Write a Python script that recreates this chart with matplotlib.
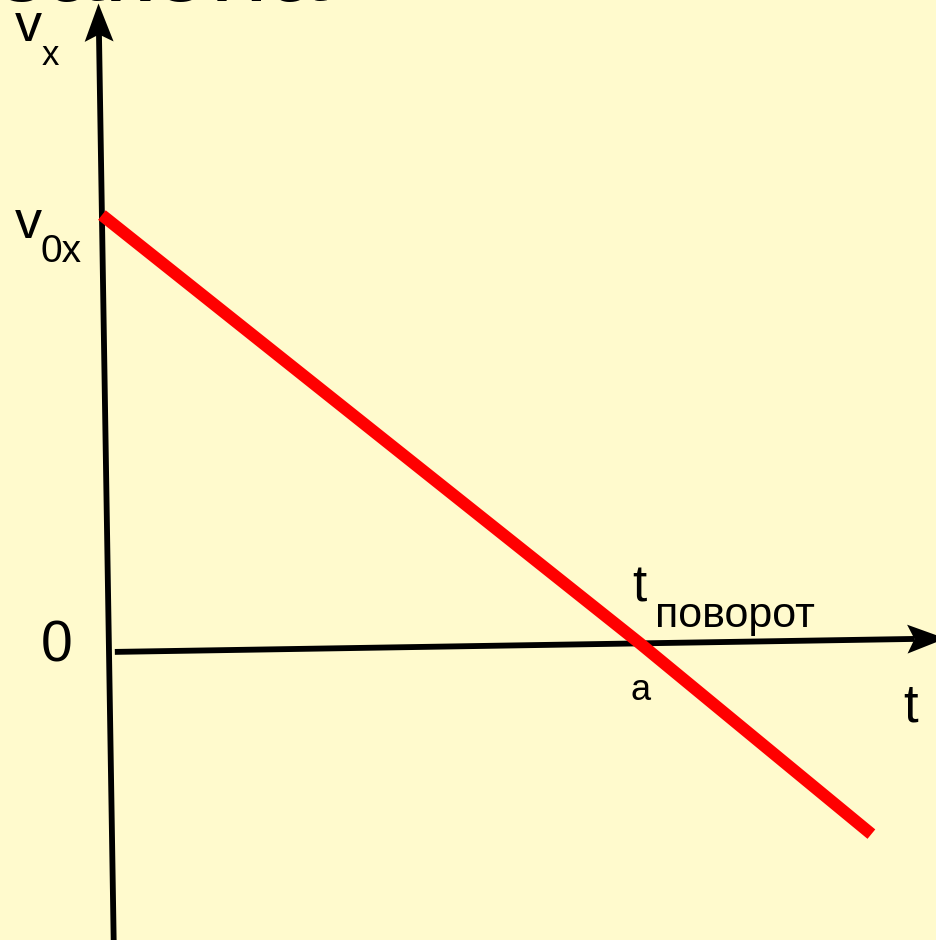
import numpy as np
import matplotlib.pyplot as plt
from matplotlib.path import Path
from matplotlib.markers import MarkerStyle
from matplotlib.transforms import Affine2D

plt.rcParams['font.family'] = ['Liberation Sans', 'DejaVu Sans']

# v_x(t): скорость падает до нуля в момент поворота и меняет знак
t_line = [0.0, 1.0, 1.43]
v_line = [1.0, 0.0, -0.445]
v_axis = [-0.7, 1.485]     # пределы оси скорости
t_axis = [0.011, 1.574]    # пределы оси времени

bg = '#FFFACD'
fig = plt.figure(figsize=(9.36, 9.40), dpi=100, facecolor=bg)
ax = fig.add_axes([0, 0, 1, 1])
ax.set_xlim(0, 936)
ax.set_ylim(940, 0)
ax.axis('off')
ax.set_facecolor(bg)

# оси на картинке чуть повернуты
tilt = 0.93
a = np.deg2rad(tilt)
sx, sy = 531, 437
ox, oy = 109, 652
M = np.array([[sx * np.cos(a), -sy * np.sin(a), ox],
              [-sx * np.sin(a), -sy * np.cos(a), oy],
              [0, 0, 1]])
chart = Affine2D(M) + ax.transData

head = Path([(0, 0), (-37, 14), (-30, 0), (-37, -14), (0, 0)],
            [Path.MOVETO, Path.LINETO, Path.LINETO, Path.LINETO, Path.CLOSEPOLY])

# ось v
ax.plot([0, 0], [v_axis[0], v_axis[1] - 30 / sy], color='k', lw=4.2,
        solid_capstyle='butt', transform=chart)
ax.plot([0], [v_axis[1]], ls='none', color='k', ms=55, mew=0,
        marker=MarkerStyle(head, transform=Affine2D().rotate_deg(90 + tilt)),
        transform=chart)
# ось t
ax.plot([t_axis[0], t_axis[1] - 30 / sx], [0, 0], color='k', lw=4.2,
        solid_capstyle='butt', transform=chart)
ax.plot([t_axis[1]], [0], ls='none', color='k', ms=55, mew=0,
        marker=MarkerStyle(head, transform=Affine2D().rotate_deg(tilt)),
        transform=chart)

# график
ax.plot(t_line, v_line, color='#FF0000', lw=8.8, solid_capstyle='butt',
        transform=chart, zorder=3)

# подписи
ax.text(-3, 1.5, 'закона', fontsize=76, va='baseline')
ax.text(15, 41, 'v', fontsize=39, va='baseline')
ax.text(42, 65, 'x', fontsize=25, va='baseline')
ax.text(15, 238, 'v', fontsize=39, va='baseline')
ax.text(41, 262, '0x', fontsize=28, va='baseline')
ax.text(41, 662, '0', fontsize=41, va='baseline')
ax.text(632, 601, 't', fontsize=37, va='baseline')
ax.text(655, 627, 'поворот', fontsize=31, va='baseline')
ax.text(631, 700, 'а', fontsize=26, va='baseline')
ax.text(903, 722, 't', fontsize=38, va='baseline')

plt.savefig('out.png', dpi=100, facecolor=bg)
